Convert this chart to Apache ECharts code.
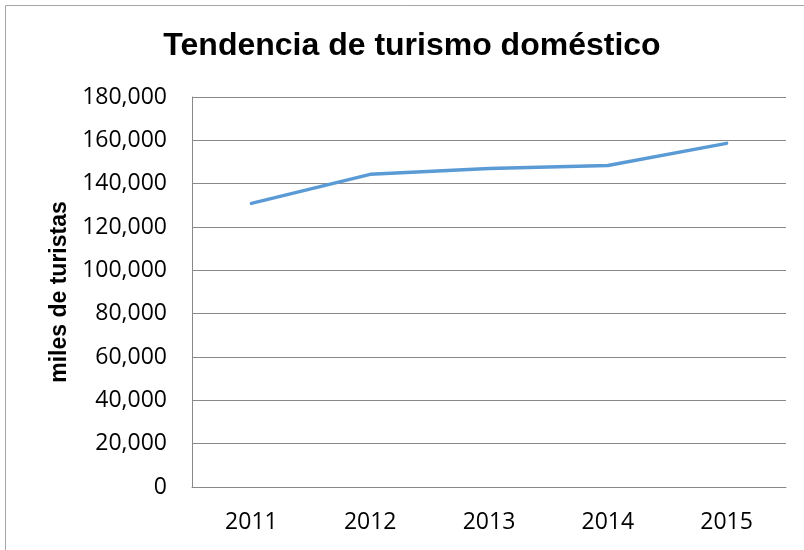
<!DOCTYPE html>
<html>
<head>
<meta charset="utf-8">
<script src="https://cdn.jsdelivr.net/npm/echarts@6/dist/echarts.min.js"></script>
<style>
  html, body { margin: 0; padding: 0; background: #fff; }
  #chart { width: 804px; height: 550px; }
</style>
</head>
<body>
<div id="chart"></div>
<script>
// data
var years = ['2011', '2012', '2013', '2014', '2015'];
var tourists = [130900, 144300, 147000, 148400, 158600];
var yTicks = [0, 20000, 40000, 60000, 80000, 100000, 120000, 140000, 160000, 180000];

var labelFont = "'Open Sans', 'Liberation Sans', sans-serif";
var gridGray = '#898989';

var chart = echarts.init(document.getElementById('chart'), null, { renderer: 'canvas' });

chart.setOption({
  animation: false,
  backgroundColor: '#fff',
  title: {
    text: 'Tendencia de turismo doméstico',
    left: 407,
    top: 25,
    textAlign: 'center',
    textStyle: {
      fontFamily: "'Liberation Sans', Arial, sans-serif",
      fontWeight: 'bold',
      fontSize: 32,
      color: '#000'
    }
  },
  graphic: [{
    // chart-area border (only top/left edges are visible in the reference)
    type: 'rect',
    shape: { x: 5.5, y: 5.5, width: 820, height: 570 },
    style: { fill: null, stroke: '#a6a6a6', lineWidth: 1 },
    silent: true
  }],
  grid: { left: 192, right: 18, top: 97, bottom: 63 },
  xAxis: {
    type: 'category',
    data: years,
    boundaryGap: true,
    axisLine: { lineStyle: { color: gridGray, width: 1 } },
    axisTick: { show: false },
    axisLabel: {
      margin: 24,
      fontFamily: labelFont,
      fontSize: 23,
      color: '#000'
    }
  },
  yAxis: {
    type: 'value',
    min: yTicks[0],
    max: yTicks[yTicks.length - 1],
    interval: yTicks[1] - yTicks[0],
    name: 'miles de turistas',
    nameLocation: 'middle',
    nameGap: 121,
    nameTextStyle: {
      fontFamily: "'Liberation Sans', Arial, sans-serif",
      fontWeight: 'bold',
      fontSize: 23,
      color: '#000'
    },
    axisLine: { show: true, lineStyle: { color: gridGray, width: 1 } },
    axisTick: { show: false },
    splitLine: { lineStyle: { color: gridGray, width: 1 } },
    axisLabel: {
      margin: 25,
      fontFamily: labelFont,
      fontSize: 23,
      color: '#000',
      formatter: function (v) { return v.toLocaleString('en-US'); }
    }
  },
  series: [{
    type: 'line',
    data: tourists,
    showSymbol: false,
    symbol: 'none',
    lineStyle: { color: '#5b9bd5', width: 3.5, cap: 'round', join: 'round' },
    itemStyle: { color: '#5b9bd5' }
  }]
});
</script>
</body>
</html>
